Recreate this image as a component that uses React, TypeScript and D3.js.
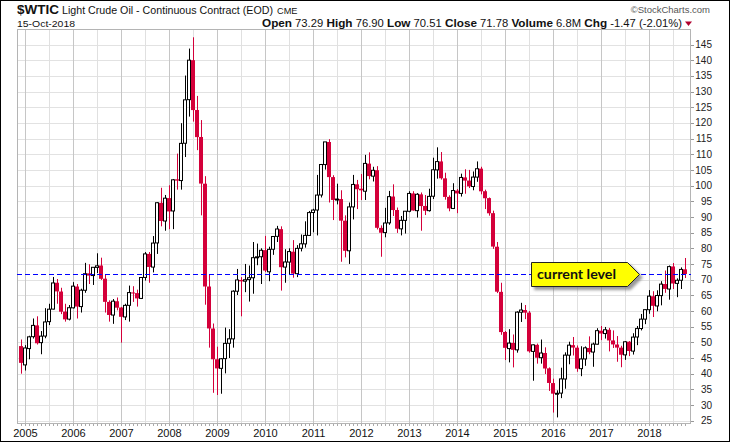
import { useEffect, useRef } from "react"
import * as d3 from "d3"

// monthly bars for $WTIC, each [open, high, low, close]
const bars2004 = [[48.8, 50.9, 40.0, 43.45]] // Dec only
const bars2005 = [
  [42.8, 49.1, 41.0, 48.2], [48.0, 52.1, 44.6, 51.75], [51.8, 57.6, 51.2, 55.4], [55.4, 58.3, 49.3, 49.7],
  [49.9, 53.6, 46.2, 51.97], [52.0, 60.9, 51.3, 56.5], [56.6, 62.3, 55.5, 60.57], [60.6, 70.85, 60.5, 68.94],
  [69.0, 70.2, 62.3, 66.24], [66.2, 67.4, 59.0, 59.76], [59.8, 62.3, 56.6, 57.32], [57.4, 61.9, 57.0, 61.04],
]
const bars2006 = [
  [61.0, 69.2, 60.8, 67.92], [67.8, 68.6, 57.6, 61.41], [61.4, 67.1, 59.5, 66.63], [66.6, 75.35, 65.8, 71.88],
  [72.0, 74.9, 68.6, 71.29], [71.3, 74.0, 68.3, 73.93], [73.9, 78.4, 72.1, 74.4], [74.5, 77.0, 69.9, 70.26],
  [70.3, 71.5, 59.5, 62.91], [62.9, 63.4, 56.6, 58.73], [58.7, 63.8, 55.9, 63.13], [63.1, 64.3, 60.2, 61.05],
]
const bars2007 = [
  [61.1, 61.3, 49.9, 58.14], [58.1, 62.3, 57.1, 61.79], [61.8, 68.1, 56.6, 65.87], [65.9, 67.9, 62.9, 65.71],
  [65.7, 66.8, 61.4, 64.01], [64.0, 70.8, 63.8, 70.68], [70.7, 78.8, 69.7, 78.21], [78.2, 78.8, 69.0, 74.04],
  [74.0, 83.9, 72.3, 81.66], [81.7, 94.7, 78.2, 94.53], [94.5, 99.3, 87.0, 88.71], [88.7, 97.0, 85.6, 95.98],
]
const bars2008 = [
  [96.0, 100.1, 86.1, 91.75], [91.9, 102.1, 86.1, 101.84], [102.0, 110.2, 98.7, 101.58], [101.6, 119.9, 98.7, 113.46],
  [113.5, 135.1, 109.1, 127.35], [127.4, 143.7, 122.0, 140.0], [140.0, 147.3, 120.4, 124.08], [124.1, 128.6, 111.3, 115.46],
  [115.5, 120.9, 90.5, 100.64], [100.6, 103.0, 62.0, 67.81], [67.8, 71.5, 48.3, 54.43], [54.4, 56.0, 33.9, 44.6],
]
const bars2009 = [
  [44.6, 48.6, 33.2, 41.68], [41.7, 45.0, 33.6, 44.76], [44.8, 54.7, 40.1, 49.66], [49.7, 54.2, 45.0, 51.12],
  [51.1, 66.6, 48.3, 66.31], [66.3, 73.4, 65.1, 69.89], [69.9, 70.8, 58.3, 69.45], [69.5, 75.0, 66.0, 69.96],
  [70.0, 74.5, 63.0, 70.61], [70.6, 82.0, 65.5, 77.0], [77.0, 81.5, 74.6, 77.28], [77.3, 80.0, 68.6, 79.36],
]
const bars2010 = [
  [79.4, 83.95, 72.4, 72.89], [72.5, 80.5, 69.5, 79.66], [79.7, 83.8, 77.9, 83.76], [83.8, 87.15, 82.0, 86.15],
  [86.1, 87.0, 66.5, 73.97], [74.0, 79.7, 69.0, 75.63], [75.6, 80.0, 71.6, 78.95], [78.9, 82.6, 70.6, 71.92],
  [71.9, 81.0, 70.8, 79.97], [80.0, 84.4, 79.0, 81.43], [81.4, 88.6, 80.2, 84.11], [84.1, 91.9, 84.0, 91.38],
]
const bars2011 = [
  [91.4, 92.6, 85.1, 92.19], [92.2, 103.4, 84.1, 96.97], [97.0, 106.9, 96.2, 106.72], [106.7, 113.9, 105.1, 113.93],
  [113.9, 114.8, 94.6, 102.7], [102.7, 103.3, 89.0, 95.42], [95.4, 100.6, 94.0, 95.7], [95.7, 98.5, 75.7, 88.81],
  [88.8, 90.5, 77.1, 79.2], [79.2, 94.6, 75.0, 93.19], [93.2, 103.4, 89.2, 100.36], [100.4, 101.8, 92.5, 98.83],
]
const bars2012 = [
  [99.0, 103.7, 95.4, 98.48], [98.2, 109.8, 95.4, 107.07], [107.0, 110.6, 102.0, 103.02], [103.0, 106.0, 101.3, 104.87],
  [104.9, 106.2, 86.0, 86.53], [86.5, 87.3, 77.3, 84.96], [85.0, 92.9, 83.5, 88.06], [88.1, 98.3, 87.5, 96.47],
  [96.5, 100.4, 90.3, 92.19], [92.2, 93.0, 84.9, 86.24], [86.2, 90.3, 84.1, 88.91], [88.9, 91.9, 84.7, 91.82],
]
const bars2013 = [
  [91.8, 98.2, 91.5, 97.49], [97.5, 98.2, 92.0, 92.05], [92.0, 97.6, 89.8, 97.23], [97.2, 97.8, 85.6, 93.46],
  [93.5, 97.0, 90.6, 91.97], [92.0, 99.0, 91.7, 96.56], [96.6, 108.9, 95.7, 105.03], [105.0, 112.2, 102.2, 107.65],
  [107.7, 110.7, 101.9, 102.33], [102.3, 104.1, 95.5, 96.38], [96.4, 96.9, 91.8, 92.72], [92.7, 100.75, 92.5, 98.42],
]
const bars2014 = [
  [98.4, 98.9, 91.2, 97.49], [97.5, 103.8, 96.5, 102.59], [102.6, 105.2, 97.4, 101.58], [101.6, 105.0, 99.2, 99.74],
  [99.7, 104.5, 98.5, 102.71], [102.7, 107.7, 101.2, 105.37], [105.4, 106.0, 97.2, 98.17], [98.2, 98.7, 92.5, 95.96],
  [96.0, 96.2, 90.4, 91.16], [91.2, 92.0, 79.8, 80.54], [80.5, 82.0, 65.7, 66.15], [66.1, 69.0, 52.4, 53.27],
]
const bars2015 = [
  [53.3, 53.6, 44.35, 48.24], [48.0, 54.2, 43.6, 49.76], [49.8, 52.5, 42.0, 47.6], [47.6, 59.9, 46.7, 59.63],
  [59.6, 62.6, 56.5, 60.3], [60.3, 61.9, 57.4, 59.47], [59.5, 60.0, 46.7, 47.12], [47.1, 49.3, 37.75, 49.2],
  [49.2, 49.6, 43.2, 45.09], [45.1, 50.9, 43.2, 46.59], [46.6, 48.4, 39.9, 41.65], [41.7, 42.0, 34.5, 37.04],
]
const bars2016 = [
  [37.0, 38.4, 27.6, 33.62], [33.6, 34.7, 26.05, 33.75], [33.8, 41.9, 32.2, 38.34], [38.3, 46.8, 35.2, 45.92],
  [45.9, 50.2, 43.0, 49.1], [49.1, 51.7, 45.8, 48.33], [48.3, 49.0, 40.6, 41.6], [41.6, 48.75, 39.2, 44.7],
  [44.7, 48.7, 42.5, 48.24], [48.2, 51.9, 46.2, 46.86], [46.9, 49.9, 42.2, 49.44], [49.4, 54.5, 49.3, 53.72],
]
const bars2017 = [
  [53.7, 55.2, 50.7, 52.81], [52.8, 54.9, 51.2, 54.01], [54.0, 54.6, 47.1, 50.6], [50.6, 53.8, 48.2, 49.33],
  [49.3, 52.0, 43.8, 48.32], [48.3, 48.9, 42.05, 46.04], [46.0, 50.4, 44.4, 50.17], [50.2, 50.4, 45.6, 47.23],
  [47.2, 52.9, 46.1, 51.67], [51.7, 55.2, 49.1, 54.38], [54.4, 59.05, 53.8, 57.4], [57.4, 60.5, 55.8, 60.42],
]
const bars2018 = [
  [60.4, 66.66, 59.1, 64.73], [64.7, 66.3, 58.07, 61.64], [61.6, 66.6, 59.9, 64.94], [64.9, 69.5, 61.8, 68.57],
  [68.6, 72.9, 65.8, 67.04], [67.0, 74.5, 63.6, 74.15], [74.2, 75.3, 67.0, 68.76], [68.8, 70.4, 64.4, 69.8],
  [69.8, 73.9, 67.0, 73.25], [73.29, 76.9, 70.51, 71.78],
]

const yearLabels = ["2005", "2006", "2007", "2008", "2009", "2010", "2011", "2012", "2013", "2014", "2015", "2016", "2017", "2018"]
const priceTicks = [25, 30, 35, 40, 45, 50, 55, 60, 65, 70, 75, 80, 85, 90, 95, 100, 105, 110, 115, 120, 125, 130, 135, 140, 145]
const headerStats = [["Open", "73.29"], ["High", "76.90"], ["Low", "70.51"], ["Close", "71.78"], ["Volume", "6.8M"], ["Chg", "-1.47 (-2.01%)"]]
const currentLevel = 71.78

const FONT = "'Liberation Sans', Arial, sans-serif"
const RED = "#d4003a"

export default function App() {
  const svgRef = useRef<SVGSVGElement>(null)

  useEffect(() => {
    if (!svgRef.current) return
    const W = 730
    const H = 442
    const left = 17, right = 691, top = 29, bottom = 424

    d3.select(svgRef.current).selectAll("*").remove()
    const svg = d3.select(svgRef.current).attr("width", W).attr("height", H)

    // month index 0 = Jan 2005, first bar is Dec 2004
    const all = [bars2004, bars2005, bars2006, bars2007, bars2008, bars2009, bars2010, bars2011, bars2012,
      bars2013, bars2014, bars2015, bars2016, bars2017, bars2018].flat()
    const bars = all.map((b, k) => ({ i: k - 1, o: b[0], h: b[1], l: b[2], c: b[3] }))

    const x = d3.scaleLinear().domain([-2, 166.5]).range([left, right])
    const y = d3.scaleLinear().domain([25, 145]).range([420.7, 44.5])

    const defs = svg.append("defs")
    const f = defs.append("filter").attr("id", "shadow").attr("x", "-20%").attr("y", "-30%").attr("width", "150%").attr("height", "180%")
    f.append("feDropShadow").attr("dx", 3).attr("dy", 3).attr("stdDeviation", 1.8)
      .attr("flood-color", "#777").attr("flood-opacity", 0.75)
    defs.append("clipPath").attr("id", "plot").append("rect")
      .attr("x", left).attr("y", top).attr("width", right - left).attr("height", bottom - top)

    svg.append("rect").attr("width", W).attr("height", H).attr("fill", "#fff")

    // grid
    const grid = svg.append("g")
    grid.selectAll(".hg").data(priceTicks).enter().append("line")
      .attr("x1", left).attr("x2", right)
      .attr("y1", (d) => Math.round(y(d)) + 0.5).attr("y2", (d) => Math.round(y(d)) + 0.5)
      .attr("stroke", "#e2e2e2")
    const vLines = d3.range(-6, 167, 6).filter((i) => x(i) > left && x(i) < right)
    grid.selectAll(".vg").data(vLines).enter().append("line")
      .attr("x1", (d) => Math.round(x(d)) + 0.5).attr("x2", (d) => Math.round(x(d)) + 0.5)
      .attr("y1", top).attr("y2", bottom)
      .attr("stroke", (d) => (d % 12 === 0 ? "#c6c6c6" : "#e0e0e0"))

    // plot frame
    svg.append("rect").attr("x", left + 0.5).attr("y", top + 0.5)
      .attr("width", right - left - 1).attr("height", bottom - top - 1)
      .attr("fill", "none").attr("stroke", "#b4b4b4")

    // candles
    const g = svg.append("g").attr("clip-path", "url(#plot)")
    const candle = g.selectAll(".c").data(bars).enter().append("g")
    candle.append("line")
      .attr("x1", (d) => Math.round(x(d.i)) + 0.5).attr("x2", (d) => Math.round(x(d.i)) + 0.5)
      .attr("y1", (d) => y(d.h)).attr("y2", (d) => y(d.l))
      .attr("stroke", (d) => (d.c >= d.o ? "#000" : RED)).attr("stroke-width", 1)
    candle.append("rect")
      .attr("x", (d) => Math.round(x(d.i)) - (d.c >= d.o ? 1.5 : 2))
      .attr("width", (d) => (d.c >= d.o ? 3 : 4))
      .attr("y", (d) => y(Math.max(d.o, d.c)))
      .attr("height", (d) => Math.max(1, Math.abs(y(d.o) - y(d.c))))
      .attr("fill", (d) => (d.c >= d.o ? "#fff" : RED))
      .attr("stroke", (d) => (d.c >= d.o ? "#000" : "none"))
      .attr("stroke-width", 1)

    // current level
    svg.append("line")
      .attr("x1", left).attr("x2", right)
      .attr("y1", Math.round(y(currentLevel)) + 0.5).attr("y2", Math.round(y(currentLevel)) + 0.5)
      .attr("stroke", "#0000ff").attr("stroke-dasharray", "5,3")

    const cy = Math.round(y(currentLevel)) + 0.5
    const bx0 = 531.5, bx1 = 627.5, tip = 639.5
    svg.append("path")
      .attr("d", `M${bx0},${cy - 12}L${bx1},${cy - 12}L${tip},${cy}L${bx1},${cy + 12}L${bx0},${cy + 12}Z`)
      .attr("fill", "#ffff00").attr("stroke", "#222").attr("stroke-width", 1)
      .attr("filter", "url(#shadow)")
    svg.append("text").attr("x", 537).attr("y", cy + 4.5)
      .attr("font-family", "Lato, 'Open Sans', sans-serif").attr("font-weight", "bold").attr("font-size", 14)
      .attr("textLength", 79).attr("lengthAdjust", "spacingAndGlyphs")
      .attr("fill", "#111").text("current level")

    // right axis
    const ya = svg.append("g")
    ya.selectAll(".t").data(priceTicks).enter().append("line")
      .attr("x1", right).attr("x2", right + 3)
      .attr("y1", (d) => Math.round(y(d)) + 0.5).attr("y2", (d) => Math.round(y(d)) + 0.5)
      .attr("stroke", "#999")
    ya.selectAll(".l").data(priceTicks).enter().append("text")
      .attr("x", 712).attr("y", (d) => y(d) + 3.6)
      .attr("text-anchor", "end").attr("font-family", FONT).attr("font-size", 10).attr("fill", "#222")
      .text((d) => d)

    // bottom axis
    const xa = svg.append("g")
    xa.selectAll(".m").data(d3.range(-1, 166)).enter().append("line")
      .attr("x1", (d) => Math.round(x(d)) + 0.5).attr("x2", (d) => Math.round(x(d)) + 0.5)
      .attr("y1", bottom).attr("y2", bottom + 2)
      .attr("stroke", "#aaa")
    xa.selectAll(".yl").data(yearLabels).enter().append("text")
      .attr("x", (_, k) => x(k * 12) + 0.5).attr("y", 437)
      .attr("text-anchor", "middle").attr("font-family", FONT).attr("font-size", 11).attr("fill", "#111")
      .text((d) => d)

    // header
    svg.append("text").attr("x", 17).attr("y", 14).attr("font-family", FONT).attr("font-size", 13)
      .attr("font-weight", "bold").attr("textLength", 42).attr("lengthAdjust", "spacingAndGlyphs")
      .attr("fill", "#111").text("$WTIC")
    svg.append("text").attr("x", 62).attr("y", 14).attr("font-family", FONT).attr("font-size", 10.8)
      .attr("textLength", 211).attr("lengthAdjust", "spacingAndGlyphs").attr("fill", "#111")
      .text("Light Crude Oil - Continuous Contract (EOD)")
    svg.append("text").attr("x", 277).attr("y", 14).attr("font-family", FONT).attr("font-size", 9.2)
      .attr("fill", "#111").text("CME")
    svg.append("text").attr("x", 710).attr("y", 13).attr("text-anchor", "end").attr("font-family", FONT)
      .attr("font-size", 9.5).attr("fill", "#555").text("©StockCharts.com")
    svg.append("text").attr("x", 17).attr("y", 26.5).attr("font-family", FONT).attr("font-size", 9.6)
      .attr("textLength", 58).attr("lengthAdjust", "spacingAndGlyphs").attr("fill", "#111").text("15-Oct-2018")

    const stats = svg.append("text").attr("x", 262).attr("y", 27)
      .attr("textLength", 420).attr("lengthAdjust", "spacingAndGlyphs")
      .attr("font-family", FONT).attr("fill", "#111")
    headerStats.forEach(([label, value], k) => {
      stats.append("tspan").attr("font-weight", "bold").attr("font-size", 11.5).text((k ? " " : "") + label)
      stats.append("tspan").attr("font-size", 11).text(" " + value)
    })
    svg.append("path").attr("d", "M685,21.5L692,21.5L688.5,26Z").attr("fill", "#b0002e")

    // outer frame
    svg.append("rect").attr("x", 0.5).attr("y", 0.5).attr("width", W - 1).attr("height", H - 1)
      .attr("fill", "none").attr("stroke", "#000")
  }, [])

  return (
    <div style={{ position: "absolute", left: 0, top: 0 }}>
      <svg ref={svgRef} style={{ display: "block" }}></svg>
    </div>
  )
}
